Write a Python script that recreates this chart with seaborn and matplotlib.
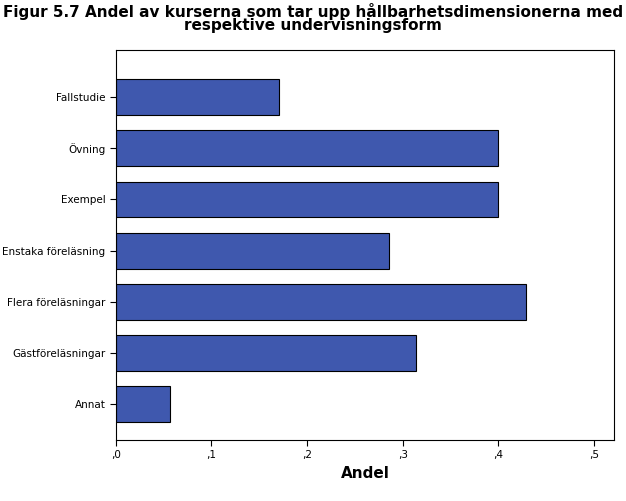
import matplotlib
matplotlib.use("Agg")
import matplotlib.pyplot as plt
import seaborn as sns
import pandas as pd

categories = ["Fallstudie", "Övning", "Exempel", "Enstaka föreläsning", "Flera föreläsningar", "Gästföreläsningar", "Annat"]
values = [0.171, 0.400, 0.400, 0.286, 0.429, 0.314, 0.057]
tick_vals = [0, 0.1, 0.2, 0.3, 0.4, 0.5]
tick_labels = [",0", ",1", ",2", ",3", ",4", ",5"]

df = pd.DataFrame({"cat": categories, "val": values})
fig = plt.figure(figsize=(6.26, 5.01), dpi=100)
ax = fig.add_axes([0.185, 0.122, 0.796, 0.778])
sns.barplot(data=df, x="val", y="cat", orient="h", color="#3F58AE", saturation=1,
            edgecolor="black", linewidth=0.8, width=0.7, ax=ax)
ax.set_xlim(0, 0.521)
ax.set_ylim(6.7, -0.92)
ax.set_xticks(tick_vals)
ax.set_xticklabels(tick_labels, fontsize=7.5)
ax.tick_params(axis="y", labelsize=7.5, length=4)
ax.tick_params(axis="x", length=4)
ax.set_ylabel("")
ax.set_xlabel("Andel", fontsize=11, fontweight="bold")
for s in ax.spines.values():
    s.set_linewidth(0.8)
fig.suptitle("Figur 5.7 Andel av kurserna som tar upp hållbarhetsdimensionerna med\nrespektive undervisningsform",
             fontsize=11, fontweight="bold", y=0.995, linespacing=0.9)
fig.savefig("out.png", dpi=100)
